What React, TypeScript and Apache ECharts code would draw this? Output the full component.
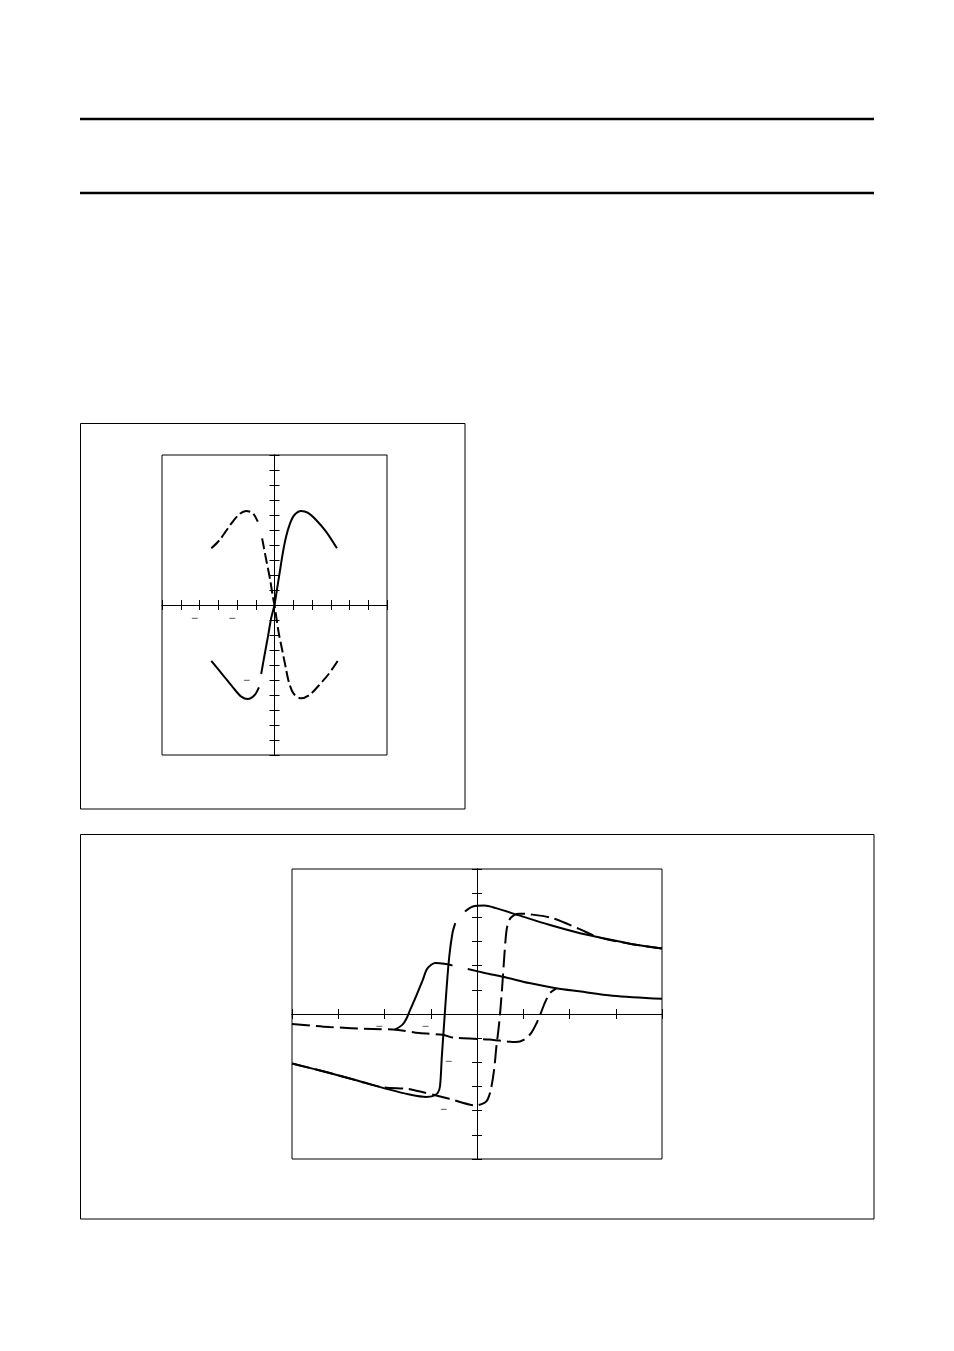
import { useEffect, useRef } from 'react';
import * as echarts from 'echarts';

// upper plot (null = break in the trace)
const upperSolidX = [-3.37, -2.75, -2.22, -1.77, -1.42, -1.06, -0.83, -0.77, -0.71, -0.53, -0.35, -0.18, 0, 0.12, 0.27, 0.44, 0.62, 0.83, 1.06, 1.42, 1.77, 2.22, 2.75, 3.33];
const upperSolidY = [-3.73, -4.67, -5.49, -6.11, -6.27, -6.0, -5.49, null, -4.6, -3.33, -2.11, -0.89, 0, 0.95, 2.11, 3.44, 4.56, 5.44, 6.0, 6.27, 6.16, 5.67, 4.89, 3.78];
const upperDashX = [-3.37, -2.93, -2.3, -1.86, -1.51, -1.15, -0.89, -0.78, -0.66, -0.44, -0.23, -0.09, 0, 0.09, 0.23, 0.41, 0.59, 0.76, 1.01, 1.42, 1.86, 2.39, 2.89, 3.37];
const upperDashY = [3.78, 4.33, 5.44, 6.07, 6.27, 6.11, 5.56, null, 4.44, 3.0, 1.67, 0.56, 0, -0.78, -1.89, -3.0, -4.11, -5.11, -5.89, -6.22, -6.0, -5.33, -4.6, -3.73];

// lower plot: big loop (solid / dashed) and small loop (solid / dashed)
const bigSolidX = [-4.0, -3.33, -2.61, -1.89, -1.46, -1.1, -0.96, -0.85, -0.8, -0.76, -0.71, -0.66, -0.6, -0.53, -0.47, -0.36, -0.26, -0.09, 0.16, 0.41, 0.91, 1.56, 2.21, 2.64, 3.36, 4.0];
const bigSolidY = [-2.05, -2.37, -2.74, -3.13, -3.33, -3.43, -3.4, -3.27, -2.99, -1.75, -0.37, 1.0, 2.38, 3.35, 3.76, null, 4.24, 4.45, 4.49, 4.38, 4.08, 3.69, 3.35, 3.17, 2.89, 2.71];
const bigDashX = [-4.0, -3.33, -2.61, -2.05, -1.5, -1.25, -0.6, -0.02, 0.16, 0.23, 0.3, 0.37, 0.42, 0.48, 0.54, 0.59, 0.64, 0.7, 0.81, 0.91, 1.13, 1.63, 2.21, 2.64, 3.36, 4.0];
const bigDashY = [-2.05, -2.37, -2.74, -3.03, -3.1, -3.2, -3.51, -3.78, -3.68, -3.54, -3.13, -2.3, -1.34, -0.37, 1.0, 2.38, 3.48, 3.9, 4.1, 4.15, 4.13, 3.97, 3.52, 3.17, 2.89, 2.71];
const smallSolidX = [-1.78, -1.61, -1.53, -1.45, -1.35, -1.26, -1.17, -1.09, -0.99, -0.89, -0.71, -0.53, -0.37, -0.2, 0.19, 0.63, 1.13, 1.71, 2.21, 2.93, 4.0];
const smallSolidY = [-0.65, -0.44, -0.21, 0.15, 0.59, 1.0, 1.42, 1.83, 2.04, 2.11, 2.08, 2.01, null, 1.86, 1.69, 1.51, 1.28, 1.07, 0.94, 0.76, 0.63];
const smallDashX = [-4.0, -3.19, -2.25, -1.75, -1.25, -0.74, -0.53, 0, 0.27, 0.48, 0.84, 1.02, 1.17, 1.29, 1.38, 1.48, 1.58, 1.71];
const smallDashY = [-0.41, -0.54, -0.62, -0.65, -0.79, -0.86, -0.97, -1.03, -1.06, -1.1, -1.16, -1.06, -0.79, -0.37, 0.04, 0.52, 0.87, 1.05];

// ticks that still carry a minus sign
const upperXMinus = [-4, -2];
const upperYMinus = [-5];
const lowerXMinus = [-2, -1];
const lowerYMinus = [-2, -4];

const font = 'Liberation Sans, Arial, sans-serif';

const pairs = (xs: number[], ys: (number | null)[]) =>
  xs.map((x, i) => [x, ys[i] === null ? '-' : ys[i]]);

const tick = { show: true, length: 5, lineStyle: { color: '#000', width: 1 } };

// two axes per direction: one with ticks outside, one inside, so ticks cross the zero line
function axes(grid: number, min: number, max: number, zero: number, position: string) {
  const base = {
    type: 'value', gridIndex: grid, min, max, interval: 1, position,
    axisLine: { onZero: true, onZeroAxisIndex: zero, lineStyle: { color: '#000', width: 1 } },
    axisLabel: { show: false },
    splitLine: { show: false },
  };
  return [
    { ...base, axisTick: { ...tick, inside: false } },
    { ...base, axisTick: { ...tick, inside: true } },
  ];
}

const solid = { color: '#000', width: 2, type: 'solid' };

function line(data: any[], axis: number, dash?: number[]) {
  return {
    type: 'line', xAxisIndex: axis, yAxisIndex: axis, data,
    showSymbol: false, symbol: 'none', smooth: 0.3,
    connectNulls: false, silent: true,
    lineStyle: dash ? { ...solid, type: dash } : solid,
  };
}

// minus signs left over from the tick labels, anchored on their ticks
function minusMarks(axis: number, items: { value: number[]; offset: number[] }[]) {
  return {
    type: 'scatter', xAxisIndex: axis, yAxisIndex: axis, symbolSize: 0, silent: true, z: 5,
    data: items.map((d) => ({
      value: d.value,
      label: {
        show: true, formatter: '\u2212', position: 'inside', offset: d.offset,
        color: '#000', fontSize: 12, fontFamily: font,
      },
    })),
  };
}

export default function App() {
  const ref = useRef<HTMLDivElement>(null);

  useEffect(() => {
    if (!ref.current) return;
    const chart = echarts.init(ref.current, null, { renderer: 'svg' });

    chart.setOption({
      animation: false,
      backgroundColor: '#fff',
      grid: [
        { left: 162, top: 455, width: 225, height: 300, show: true, borderColor: '#000', borderWidth: 1, containLabel: false },
        { left: 292, top: 869, width: 370, height: 290, show: true, borderColor: '#000', borderWidth: 1, containLabel: false },
      ],
      xAxis: [
        ...axes(0, -6, 6, 0, 'bottom'),
        ...axes(1, -4, 4, 2, 'bottom'),
      ],
      yAxis: [
        ...axes(0, -10, 10, 0, 'left'),
        ...axes(1, -6, 6, 2, 'left'),
      ],
      series: [
        line(pairs(upperSolidX, upperSolidY), 0),
        line(pairs(upperDashX, upperDashY), 0, [11, 4]),
        line(pairs(bigSolidX, bigSolidY), 2),
        line(pairs(bigDashX, bigDashY), 2, [18, 6]),
        line(pairs(smallSolidX, smallSolidY), 2),
        line(pairs(smallDashX, smallDashY), 2, [18, 6]),
        minusMarks(0, [
          ...upperXMinus.map((v) => ({ value: [v, 0], offset: [-5, 13] })),
          ...upperYMinus.map((v) => ({ value: [0, v], offset: [-28, 0] })),
        ]),
        minusMarks(2, [
          ...lowerXMinus.map((v) => ({ value: [v, 0], offset: [-5.5, 12] })),
          ...lowerYMinus.map((v) => ({ value: [0, v], offset: [v === -4 ? -33.5 : -28.5, -1.5] })),
        ]),
      ],
      graphic: [
        { type: 'line', shape: { x1: 80, y1: 119, x2: 874, y2: 119 }, style: { stroke: '#000', lineWidth: 2.3 } },
        { type: 'line', shape: { x1: 80, y1: 193, x2: 874, y2: 193 }, style: { stroke: '#000', lineWidth: 2.3 } },
        { type: 'rect', shape: { x: 80.5, y: 423.5, width: 384.5, height: 385.5 }, style: { fill: 'none', stroke: '#000', lineWidth: 1 } },
        { type: 'rect', shape: { x: 80.5, y: 834.5, width: 793.5, height: 384.5 }, style: { fill: 'none', stroke: '#000', lineWidth: 1 } },
      ],
    });

    return () => {
      chart.dispose();
    };
  }, []);

  return (
    <div
      ref={ref}
      style={{ position: 'absolute', left: 0, top: 0, width: 954, height: 1351, background: '#fff' }}
    />
  );
}
